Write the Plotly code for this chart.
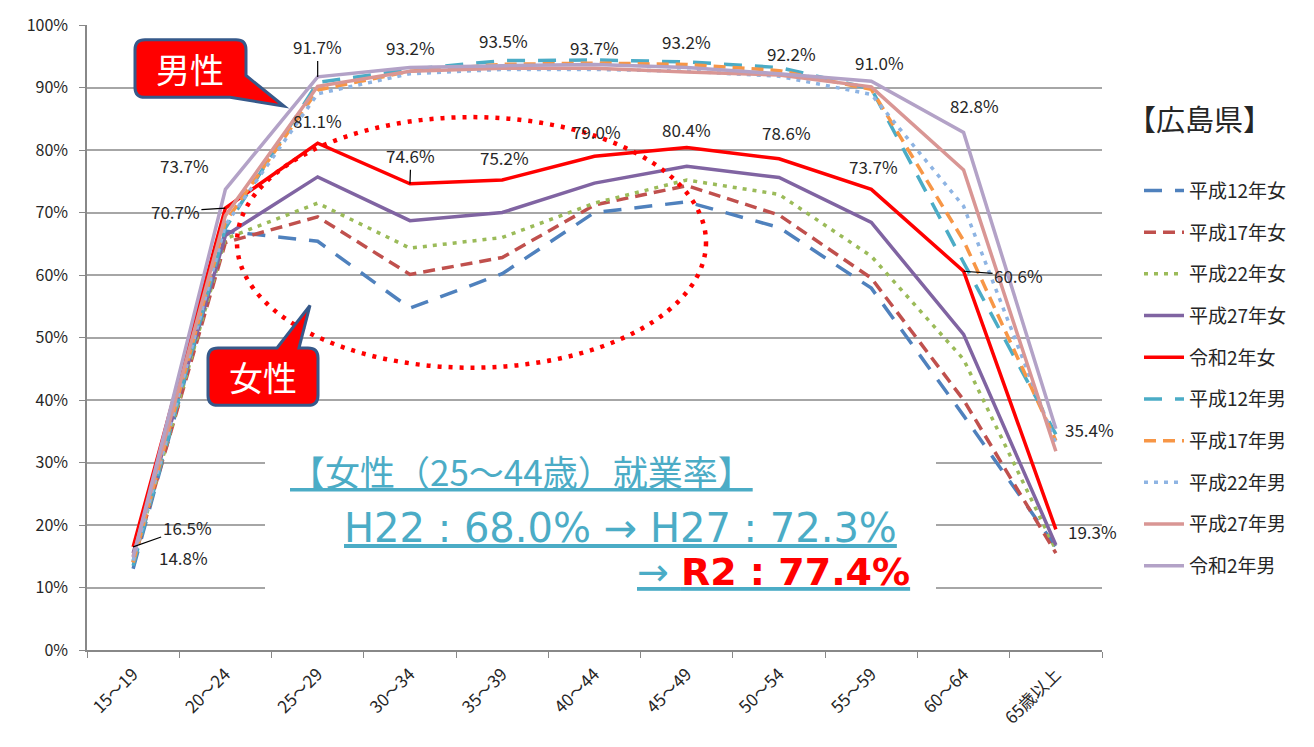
import plotly.graph_objects as go

# ---------------- data ----------------
ages = ["15～19", "20～24", "25～29", "30～34", "35～39", "40～44",
        "45～49", "50～54", "55～59", "60～64", "65歳以上"]

h12_f = [13.0, 67.0, 65.4, 54.7, 60.2, 70.0, 71.7, 67.6, 57.9, 37.5, 16.5]
h17_f = [14.0, 65.2, 69.3, 60.1, 62.8, 71.2, 74.3, 69.6, 59.5, 40.0, 15.5]
h22_f = [14.2, 65.8, 71.5, 64.3, 66.0, 71.5, 75.2, 72.9, 63.0, 46.5, 16.0]
h27_f = [15.5, 66.3, 75.7, 68.7, 70.0, 74.7, 77.4, 75.6, 68.4, 50.5, 16.8]
r2_f = [16.5, 70.7, 81.1, 74.6, 75.2, 79.0, 80.4, 78.6, 73.7, 60.6, 19.3]
h12_m = [13.5, 67.5, 90.8, 92.9, 94.3, 94.4, 94.1, 93.2, 89.8, 62.0, 34.5]
h17_m = [14.0, 68.5, 89.6, 92.6, 93.7, 93.9, 93.7, 92.7, 89.7, 65.5, 33.5]
h22_m = [14.3, 68.0, 89.0, 92.2, 92.9, 92.9, 92.6, 91.8, 88.9, 71.0, 33.0]
h27_m = [15.0, 69.5, 90.2, 92.6, 93.1, 93.1, 92.5, 92.0, 90.1, 76.8, 31.8]
r2_m = [14.8, 73.7, 91.7, 93.2, 93.5, 93.7, 93.2, 92.2, 91.0, 82.8, 35.4]

series_names = ["平成12年女", "平成17年女", "平成22年女", "平成27年女", "令和2年女",
                "平成12年男", "平成17年男", "平成22年男", "平成27年男", "令和2年男"]
series_values = [h12_f, h17_f, h22_f, h27_f, r2_f, h12_m, h17_m, h22_m, h27_m, r2_m]

# ---------------- styles ----------------
colors = ["#4F81BD", "#C0504D", "#9BBB59", "#8064A2", "#FF0000",
          "#4BACC6", "#F79646", "#8EB4E3", "#D99694", "#B3A2C7"]
LONG = "18px,13px"
DASH = "12px,7px"
DOT = "4px,6px"
dashes = [LONG, DASH, DOT, "solid", "solid", LONG, DASH, DOT, "solid", "solid"]

FONT = "Noto Sans CJK JP"
FONT_W = "DejaVu Sans"
W, H = 1314, 747
L, R, T, B = 87, 1102, 19, 650   # plot area in pixels
STEP = (R - L) / len(ages)


def px(xp):
    return (xp - L) / (R - L)


def py(yp):
    return (B - yp) / (B - T)


def dx_(xp):  # pixel -> category index coordinate
    return (xp - L) / STEP - 0.5


def dy_(yp):  # pixel -> value coordinate
    return (B - yp) / (B - T) * 100


fig = go.Figure()
for name, vals, c, d in zip(series_names, series_values, colors, dashes):
    fig.add_trace(go.Scatter(
        x=list(range(len(ages))), y=vals, mode="lines", name=name,
        line=dict(color=c, width=3.5, dash=d),
        legendgroup=name, hoverinfo="skip"))

# ---------------- data labels ----------------
annotations = []
# (values list, index, dx, dy, leader)
label_specs = [
    (r2_m, 0, 50, 0, False),
    (r2_m, 1, -41, -24, False),
    (r2_m, 2, 0, -30, True),
    (r2_m, 3, 1, -20, False),
    (r2_m, 4, 1, -25, False),
    (r2_m, 5, 0, -17, False),
    (r2_m, 6, 0, -26, False),
    (r2_m, 7, 12, -20, False),
    (r2_m, 8, 8, -19, False),
    (r2_m, 9, 11, -27, False),
    (r2_m, 10, 34, 1, False),
    (r2_f, 0, 54, -19, True),
    (r2_f, 1, -50, 3, True),
    (r2_f, 2, 0, -23, False),
    (r2_f, 3, 1, -28, True),
    (r2_f, 4, 2, -23, False),
    (r2_f, 5, 2, -25, False),
    (r2_f, 6, 0, -18, False),
    (r2_f, 7, 7, -26, False),
    (r2_f, 8, 2, -23, False),
    (r2_f, 9, 55, 4, True),
    (r2_f, 10, 37, 2, False),
]
lab_font = dict(family=FONT, size=17, color="#262626")
for vals, i, ox, oy, leader in label_specs:
    txt = f"{vals[i]:.1f}%"
    if leader:
        annotations.append(dict(x=i, y=vals[i], xref="x", yref="y", text=txt,
                                showarrow=True, arrowhead=0, arrowwidth=1.2,
                                arrowcolor="#000000", ax=ox, ay=oy, standoff=0,
                                font=lab_font))
    else:
        annotations.append(dict(x=i, y=vals[i], xref="x", yref="y", text=txt,
                                showarrow=False, xshift=ox, yshift=-oy,
                                xanchor="center", yanchor="middle",
                                font=lab_font))

# ---------------- text box ----------------
TEAL = "#4BACC6"


def ptext(x, y, text, font, xanchor="center"):
    return dict(x=px(x), y=py(y), xref="paper", yref="paper", showarrow=False,
                xanchor=xanchor, yanchor="middle", text=text, font=font)


annotations += [
    ptext(521, 469, "<u>【女性（25～44歳）就業率】</u>",
          dict(family=FONT, size=35, color=TEAL)),
    ptext(620, 527, "<u>H22 : 68.0% → H27 : 72.3%</u>",
          dict(family=FONT_W, size=40, color=TEAL)),
    ptext(912, 571,
          "<u>→ </u><u><b><span style='color:#FF0000'>R2 : 77.4%</span></b></u>",
          dict(family=FONT_W, size=38, color=TEAL), xanchor="right"),
    ptext(1199, 113, "【広島県】", dict(family=FONT, size=29, color="#262626")),
    ptext(190, 63, "男性", dict(family=FONT, size=34, color="#FFFFFF")),
    ptext(263, 374, "女性", dict(family=FONT, size=34, color="#FFFFFF")),
]


def path_from(points):
    s = ""
    for k, p in enumerate(points):
        if p[0] == "Q":
            _, (cx, cy), (ex, ey) = p
            s += f" Q {px(cx):.5f},{py(cy):.5f} {px(ex):.5f},{py(ey):.5f}"
        else:
            s += (" M " if k == 0 else " L ") + f"{px(p[0]):.5f},{py(p[1]):.5f}"
    return s.strip() + " Z"


r = 10
# 男性 callout
x0, y0, x1, y1 = 135, 34, 246, 92
male_pts = [(x0 + r, y0), (x1 - r, y0), ("Q", (x1, y0), (x1, y0 + r)),
            (x1, 70), (284, 101), (230, y1),
            (x0 + r, y1), ("Q", (x0, y1), (x0, y1 - r)),
            (x0, y0 + r), ("Q", (x0, y0), (x0 + r, y0))]
# 女性 callout
x0, y0, x1, y1 = 208, 345, 318, 403
female_pts = [(x0 + r, y0), (277, y0), (310, 302), (299, y0),
              (x1 - r, y0), ("Q", (x1, y0), (x1, y0 + r)),
              (x1, y1 - r), ("Q", (x1, y1), (x1 - r, y1)),
              (x0 + r, y1), ("Q", (x0, y1), (x0, y1 - r)),
              (x0, y0 + r), ("Q", (x0, y0), (x0 + r, y0))]

shapes = [
    # white panel behind the summary text (hides grid lines, under the traces)
    dict(type="rect", xref="x", yref="y", x0=dx_(265), x1=dx_(936),
         y0=dy_(598), y1=dy_(452), fillcolor="#FFFFFF", line=dict(width=0),
         layer="between"),
    # dotted red ellipse around women's curves
    dict(type="circle", xref="paper", yref="paper", x0=px(237), x1=px(706),
         y0=py(365), y1=py(112), line=dict(color="#FF0000", width=4.5, dash="4px,7px"),
         layer="above"),
    dict(type="path", xref="paper", yref="paper", path=path_from(male_pts),
         fillcolor="#FF0000", line=dict(color="#36598A", width=3), layer="above"),
    dict(type="path", xref="paper", yref="paper", path=path_from(female_pts),
         fillcolor="#FF0000", line=dict(color="#36598A", width=3), layer="above"),
]

fig.update_layout(
    width=W, height=H,
    margin=dict(l=L, r=W - R, t=T, b=H - B),
    paper_bgcolor="#FFFFFF", plot_bgcolor="#FFFFFF",
    font=dict(family=FONT, size=15, color="#262626"),
    showlegend=True,
    legend=dict(x=px(1139), y=py(167), xanchor="left", yanchor="top",
                font=dict(family=FONT, size=19, color="#262626"),
                tracegroupgap=14, itemwidth=40, bgcolor="rgba(0,0,0,0)"),
    annotations=annotations,
    shapes=shapes,
)
fig.update_xaxes(tickmode="array", tickvals=list(range(len(ages))), ticktext=ages,
                 ticks="", showline=True, linecolor="#888888", linewidth=1.5,
                 showgrid=False, tickangle=-45, zeroline=False, ticklabelstandoff=6,
                 tickfont=dict(family=FONT, size=17, color="#262626"),
                 range=[-0.5, len(ages) - 0.5],
                 minor=dict(tickmode="array",
                            tickvals=[k - 0.5 for k in range(len(ages) + 1)],
                            ticks="outside", ticklen=6, tickcolor="#888888",
                            showgrid=False))
fig.update_yaxes(range=[0, 100], dtick=10, ticksuffix="%", ticks="outside", ticklen=6,
                 tickcolor="#888888", showline=True, linecolor="#888888", linewidth=1.5,
                 showgrid=True, gridcolor="#A6A6A6", gridwidth=1.5, zeroline=False,
                 ticklabelstandoff=8,
                 tickfont=dict(family=FONT, size=16, color="#262626"))

fig.write_html("out.html")
